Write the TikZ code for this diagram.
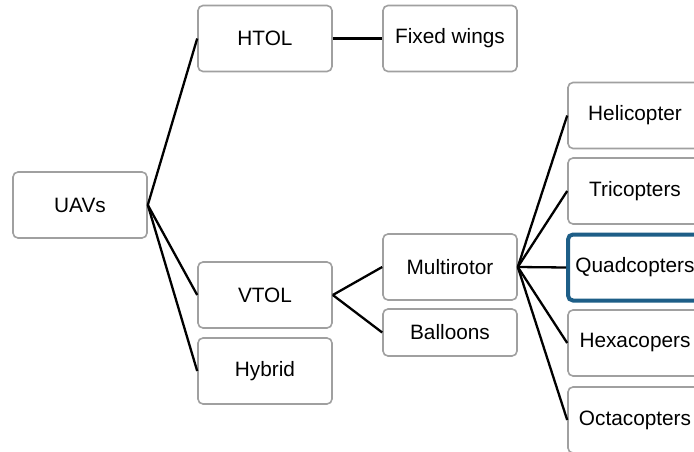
\documentclass[tikz,border=0pt]{standalone}
\usepackage{fontspec}
\setmainfont{Liberation Sans}
\definecolor{boxgray}{HTML}{A0A0A0}
\definecolor{selblue}{HTML}{1D5E87}
\tikzset{
  box/.style={draw=boxgray, line width=1.6pt, fill=white, rounded corners=5pt,
    minimum width=134pt, minimum height=66pt, inner sep=0pt, align=center,
    font=\fontsize{20.8}{24}\selectfont},
  conn/.style={draw=black, line width=2.3pt},
}
\begin{document}
\begin{tikzpicture}[x=1pt,y=-1pt]
\clip (0,0) rectangle (694,452);
\useasboundingbox (0,0) rectangle (694,452);
\fill[white] (0,0) rectangle (694,452);
\node[box] (uavs) at (80,205) {UAVs};
\node[box] (htol) at (265,38.5) {HTOL};
\node[box] (fixed) at (450,38.5) {Fixed wings};
\node[box] (vtol) at (265,295) {VTOL};
\node[box] (hybrid) at (265,371) {Hybrid};
\node[box] (multi) at (450,267) {Multirotor};
\node[box, minimum height=47pt] (balloons) at (450,332.5) {Balloons};
\node[box] (heli) at (635,115.5) {Helicopter};
\node[box] (tri) at (635,191) {Tricopters};
\node[box, draw=selblue, line width=4pt] (quad) at (635,267.5) {Quadcopters};
\node[box] (hexa) at (635,343) {Hexacopers};
\node[box] (octa) at (635,420) {Octacopters};
\draw[conn] (uavs.east) -- (htol.west);
\draw[conn] (uavs.east) -- (vtol.west);
\draw[conn] (uavs.east) -- (hybrid.west);
\draw[conn] (htol.east) -- (fixed.west);
\draw[conn] (vtol.east) -- (multi.west);
\draw[conn] (vtol.east) -- (balloons.west);
\draw[conn] (multi.east) -- (heli.west);
\draw[conn] (multi.east) -- (tri.west);
\draw[conn] (multi.east) -- (quad.west);
\draw[conn] (multi.east) -- (hexa.west);
\draw[conn] (multi.east) -- (octa.west);
\end{tikzpicture}
\end{document}
